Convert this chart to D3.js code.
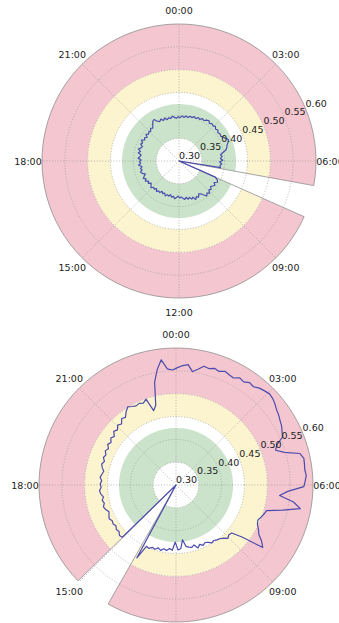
<!DOCTYPE html>
<html>
<head>
<meta charset="utf-8">
<script src="https://cdn.jsdelivr.net/npm/d3@7"></script>
<style>
  html, body { margin: 0; padding: 0; background: #fff; }
  svg { display: block; }
  text { font-family: "DejaVu Sans", sans-serif; font-size: 9.5px; fill: #222; }
</style>
</head>
<body>
<svg id="chart" width="339" height="623"></svg>
<script>
// Clock labels around each dial
const hourTicks = [0, 3, 6, 9, 12, 15, 18, 21];
const hourLabels = ["00:00", "03:00", "06:00", "09:00", "12:00", "15:00", "18:00", "21:00"];

// Radial ticks (value axis runs from 0.30 at the centre to 0.60 at the rim)
const radialTicks = [0.30, 0.35, 0.40, 0.45, 0.50, 0.55, 0.60];
const radialLabels = ["0.30", "0.35", "0.40", "0.45", "0.50", "0.55", "0.60"];

// Threshold bands: [inner, outer]
const bandNames = ["red", "amber", "green"];
const bandLow = [0.50, 0.45, 0.35];
const bandHigh = [0.60, 0.50, 0.425];
const bandColors = ["#f4c6cf", "#fcf4cf", "#cbe3ca"];

// Readings, one every 10 minutes
const sampleStepHours = 1 / 6;

const topStartHour = 7.6;
const topValues = [
  0.387, 0.394, 0.396, 0.390, 0.395, 0.392, 0.389, 0.394, 0.391, 0.397,
  0.393, 0.398, 0.392, 0.386, 0.384, 0.390, 0.387, 0.392, 0.385, 0.388,
  0.383, 0.386, 0.381, 0.385, 0.382, 0.379, 0.381, 0.377, 0.380, 0.383,
  0.378, 0.381, 0.376, 0.380, 0.378, 0.382, 0.377, 0.380, 0.376, 0.381,
  0.379, 0.383, 0.378, 0.382, 0.380, 0.385, 0.381, 0.378, 0.383, 0.380,
  0.386, 0.382, 0.387, 0.383, 0.379, 0.385, 0.388, 0.383, 0.386, 0.382,
  0.389, 0.384, 0.387, 0.383, 0.390, 0.386, 0.384, 0.391, 0.387, 0.393,
  0.388, 0.386, 0.392, 0.389, 0.394, 0.388, 0.391, 0.387, 0.393, 0.389,
  0.392, 0.390, 0.395, 0.392, 0.398, 0.404, 0.406, 0.399, 0.396, 0.400,
  0.395, 0.399, 0.394, 0.397, 0.395, 0.399, 0.396, 0.394, 0.397, 0.395,
  0.399, 0.396, 0.400, 0.397, 0.401, 0.399, 0.403, 0.400, 0.404, 0.402,
  0.406, 0.404, 0.408, 0.410, 0.406, 0.409, 0.407, 0.410, 0.406, 0.409,
  0.405, 0.408, 0.406, 0.410, 0.413, 0.418, 0.415, 0.411, 0.409, 0.406,
  0.398, 0.392, 0.395, 0.391, 0.396, 0.389, 0.394, 0.390, 0.392
];
const topGap = [6.69, 7.6];   // hours left empty on the top dial

const bottomStartHour = 15.05;
const bottomValues = [
  0.464, 0.466, 0.461, 0.463, 0.459, 0.462, 0.460, 0.464, 0.461, 0.458,
  0.463, 0.466, 0.462, 0.465, 0.461, 0.466, 0.468, 0.464, 0.466, 0.463,
  0.467, 0.464, 0.461, 0.466, 0.469, 0.465, 0.470, 0.467, 0.472, 0.468,
  0.474, 0.470, 0.476, 0.472, 0.480, 0.476, 0.483, 0.479, 0.488, 0.485,
  0.494, 0.501, 0.497, 0.494, 0.496, 0.493, 0.499, 0.470, 0.480, 0.530,
  0.556, 0.576, 0.555, 0.552, 0.557, 0.562, 0.565, 0.551, 0.558, 0.567,
  0.565, 0.569, 0.566, 0.571, 0.568, 0.566, 0.573, 0.570, 0.576, 0.574,
  0.580, 0.583, 0.586, 0.584, 0.580, 0.575, 0.572, 0.568, 0.565, 0.560,
  0.556, 0.538, 0.531, 0.548, 0.580, 0.586, 0.585, 0.584, 0.586, 0.583,
  0.580, 0.545, 0.528, 0.560, 0.577, 0.540, 0.506, 0.503, 0.499, 0.495,
  0.498, 0.505, 0.511, 0.524, 0.534, 0.484, 0.461, 0.459, 0.463, 0.456,
  0.452, 0.450, 0.447, 0.449, 0.444, 0.441, 0.445, 0.440, 0.446, 0.437,
  0.441, 0.439, 0.436, 0.421, 0.440, 0.442, 0.425, 0.443, 0.440, 0.445,
  0.442, 0.447, 0.443, 0.448, 0.446, 0.451, 0.449, 0.481
];
const bottomGap = [13.98, 15.04];  // hours left empty on the bottom dial

const svg = d3.select("#chart");
const rimRadius = 137;
const rScale = d3.scaleLinear().domain([0.30, 0.60]).range([0, rimRadius]);
const aScale = d3.scaleLinear().domain([0, 24]).range([0, 2 * Math.PI]);

function drawDial(cx, cy, startHour, values, gap) {
  const g = svg.append("g").attr("transform", `translate(${cx},${cy})`);
  const a0 = aScale(gap[1]);
  const a1 = aScale(gap[0] + 24);

  // coloured bands
  bandNames.forEach((name, i) => {
    g.append("path")
      .attr("class", "band " + name)
      .attr("d", d3.arc()
        .innerRadius(rScale(bandLow[i]))
        .outerRadius(rScale(bandHigh[i]))
        .startAngle(a0).endAngle(a1)())
      .attr("fill", bandColors[i]);
  });

  // outline of the dial sector
  g.append("path")
    .attr("d", d3.arc().innerRadius(0).outerRadius(rimRadius)
      .startAngle(a0).endAngle(a1)())
    .attr("fill", "none")
    .attr("stroke", "#8f8f8f")
    .attr("stroke-width", 0.8);

  // dotted grid
  const grid = g.append("g")
    .attr("fill", "none")
    .attr("stroke", "#9a9a9a")
    .attr("stroke-width", 0.7)
    .attr("stroke-dasharray", "1,1.8");
  radialTicks.filter(v => v > 0.30 && v < 0.60).forEach(v => {
    grid.append("circle").attr("r", rScale(v));
  });
  hourTicks.forEach(h => {
    const ang = aScale(h);
    grid.append("line")
      .attr("x1", 0).attr("y1", 0)
      .attr("x2", rimRadius * Math.sin(ang))
      .attr("y2", -rimRadius * Math.cos(ang));
  });

  // readings, closed through the centre at both ends
  const pts = values.map((v, i) => ({ h: startHour + i * sampleStepHours, v }));
  const path = [{ h: pts[0].h, v: 0.30 }, ...pts, { h: pts[pts.length - 1].h, v: 0.30 }];
  g.append("path")
    .attr("d", d3.lineRadial()
      .angle(d => aScale(d.h))
      .radius(d => rScale(d.v))(path))
    .attr("fill", "none")
    .attr("stroke", "#4b4bae")
    .attr("stroke-width", 1.2)
    .attr("stroke-linejoin", "round");

  // radial tick labels along 04:30
  const labAng = aScale(4.5);
  radialTicks.forEach((v, i) => {
    const rr = rScale(v);
    g.append("text")
      .attr("x", rr * Math.sin(labAng))
      .attr("y", -rr * Math.cos(labAng) - 2)
      .attr("text-anchor", "start")
      .text(radialLabels[i]);
  });

  // clock labels
  const labelRadius = 151;
  hourTicks.forEach((h, i) => {
    const ang = aScale(h);
    g.append("text")
      .attr("x", labelRadius * Math.sin(ang))
      .attr("y", -labelRadius * Math.cos(ang))
      .attr("text-anchor", "middle")
      .attr("dominant-baseline", "central")
      .text(hourLabels[i]);
  });
}

drawDial(179, 161, topStartHour, topValues, topGap);
drawDial(176, 485, bottomStartHour, bottomValues, bottomGap);
</script>
</body>
</html>
